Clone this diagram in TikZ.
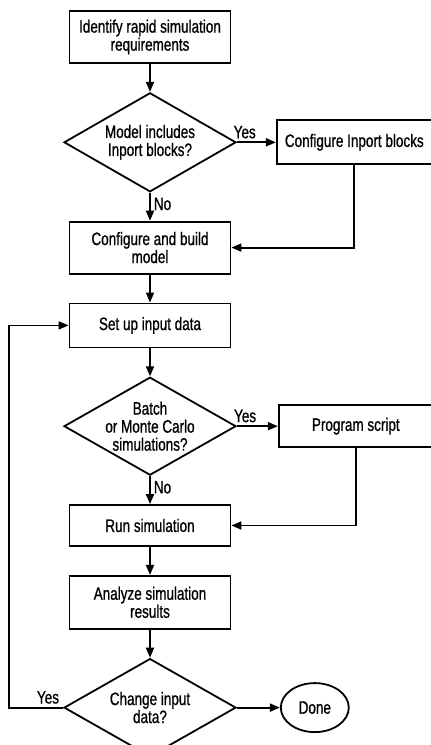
\documentclass[tikz,border=0pt]{standalone}
\usepackage{fontspec}
\setmainfont{Liberation Sans}[FakeStretch=0.75, FakeBold=0.8]
\usetikzlibrary{arrows.meta, positioning, shapes.geometric}

\begin{document}
\begin{tikzpicture}[
    x=1pt, y=1pt,
    pbox/.style={
        rectangle, draw=black, fill=white,
        minimum width=161pt, minimum height=44pt,
        font=\fontsize{18pt}{18pt}\selectfont, align=center,
        line width=1.8pt,
    },
    decision/.style={
        diamond, draw=black, fill=white, aspect=1.75, inner sep=-4pt,
        minimum width=172pt, minimum height=99pt,
        font=\fontsize{18pt}{18pt}\selectfont, align=center,
        line width=1.8pt,
    },
    term/.style={
        ellipse, draw=black, fill=white,
        minimum width=68pt, minimum height=49pt,
        font=\fontsize{18pt}{18pt}\selectfont,
        line width=1.8pt,
    },
    arr/.style={-{Triangle[length=10pt, width=8pt]}, line width=1.8pt, black},
    lbl/.style={font=\fontsize{18pt}{18pt}\selectfont, inner sep=3pt},
]
\useasboundingbox (0,0) rectangle (431,-745);

% === main column ===
\node[pbox, minimum height=52pt] (req) at (150, -37) {Identify rapid simulation\\requirements};
\node[decision, below=28pt of req] (inportq) {Model includes\\Inport blocks?};
\node[pbox, minimum height=52pt, below=28pt of inportq] (build) {Configure and build\\model};
\node[pbox, below=28pt of build] (setup) {Set up input data};
\node[decision, minimum height=98pt, below=28pt of setup] (batchq) {Batch\\or Monte Carlo\\simulations?};
\node[pbox, minimum height=41pt, below=28pt of batchq] (run) {Run simulation};
\node[pbox, minimum height=53pt, below=28pt of run] (analyze) {Analyze simulation\\results};
\node[decision, minimum height=98pt, below=28pt of analyze] (changeq) {Change input\\data?};

% === side branches ===
\node[pbox, minimum width=155pt, right=39pt of inportq] (inport) {Configure Inport blocks};
\node[pbox, minimum width=154pt, minimum height=42pt, right=41pt of batchq] (script) {Program script};
\node[term, right=43pt of changeq] (done) {Done};

% Arrows
\draw[arr] (req) -- (inportq);
\draw[arr] (inportq) -- node[lbl, pos=0.4, right] {No} (build);
\draw[arr] (inportq) -- node[lbl, pos=0.2, above] {Yes} (inport);
\draw[arr] (inport.south) |- (build.east);
\draw[arr] (build) -- (setup);
\draw[arr] (setup) -- (batchq);
\draw[arr] (batchq) -- node[lbl, pos=0.4, right] {No} (run);
\draw[arr] (batchq) -- node[lbl, pos=0.2, above] {Yes} (script);
\draw[arr] (script.south) |- (run.east);
\draw[arr] (run) -- (analyze);
\draw[arr] (analyze) -- (changeq);
\draw[arr] (changeq) -- (done);

% Loop back
\draw[arr] (changeq.west) -- node[lbl, pos=0.28, above] {Yes} ++(-54pt, 0) |- (setup.west);

\end{tikzpicture}
\end{document}
